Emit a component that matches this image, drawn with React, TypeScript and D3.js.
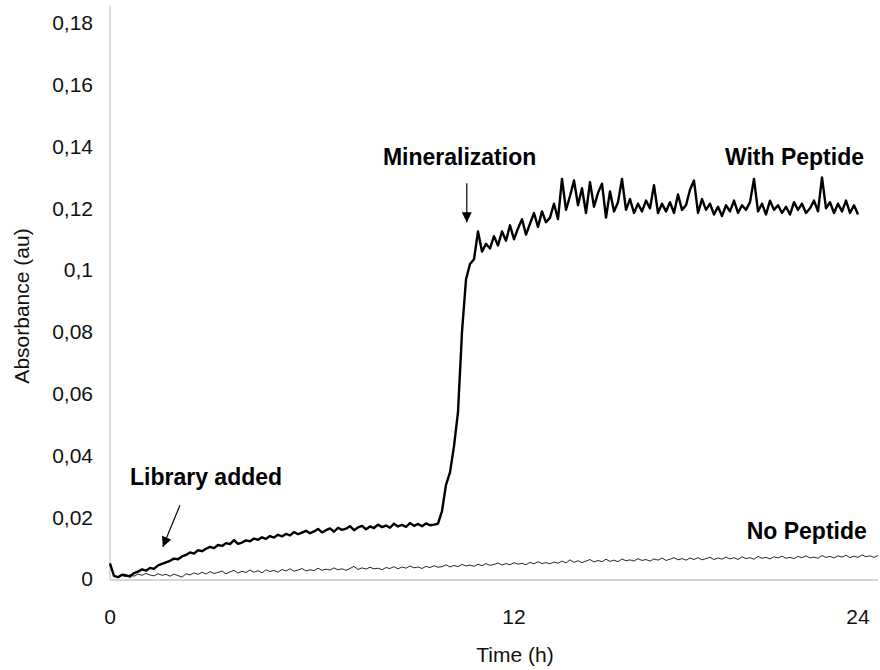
import React from "react";
import * as d3 from "d3";

// absorbance x 1000, one sample per step along the time axis
const withPeptide = [
  5.0, 1.0, 0.6, 1.4, 1.2, 0.8, 1.9, 2.4, 3.1, 2.7, 3.6, 3.3, 4.4, 4.9, 5.4, 5.9, 6.6, 6.4, 7.3, 7.8,
  8.6, 8.2, 9.3, 9.0, 9.8, 10.4, 10.0, 11.0, 10.7, 11.6, 11.3, 12.6, 11.4, 11.8, 12.5, 12.2, 13.1, 12.7, 13.5, 13.0,
  13.9, 13.4, 14.3, 13.8, 14.6, 14.1, 15.2, 14.5, 15.0, 15.6, 14.8, 15.4, 16.2, 15.1, 15.8, 16.4, 15.3, 16.6, 15.9, 16.3,
  17.1, 15.8, 16.7, 17.2, 16.1, 17.0, 16.5, 17.6, 16.8, 17.3, 16.6, 17.9, 17.0, 17.5, 16.9, 18.1, 17.2, 17.8, 17.1, 18.0,
  17.4, 17.6, 17.9, 22.0, 30.5, 34.5, 43.0, 54.0, 80.0, 97.0, 102.0, 103.5, 112.5, 106.0, 108.5, 107.0, 111.0, 108.0, 112.5, 109.5,
  114.5, 110.0, 113.5, 116.5, 111.5, 115.0, 118.5, 114.0, 119.0, 115.5, 117.0, 121.5, 116.5, 129.5, 119.5, 124.0, 129.0, 121.0, 126.5, 118.5,
  128.5, 120.5, 125.0, 128.0, 117.0, 125.5, 119.0, 122.0, 129.5, 119.5, 123.0, 118.5, 121.5, 119.0, 122.5, 120.0, 127.5, 118.5, 121.5, 119.0,
  122.0, 118.5, 124.5, 119.5, 121.0, 126.0, 129.0, 118.5, 123.0, 119.5, 121.5, 118.0, 120.5, 117.5, 121.0, 119.0, 122.5, 118.5, 121.0, 119.5,
  122.0, 129.5, 119.0, 121.5, 118.0, 122.5, 119.5, 121.0, 118.5, 120.5, 118.0, 122.0, 119.5, 121.5, 118.5, 120.0, 122.5, 119.0, 130.0, 120.0,
  122.0, 118.5, 121.5, 119.0, 122.5, 118.5, 121.0, 118.0,
];

const noPeptide = [
  5.2, 0.9, 0.5, 1.1, 0.7, 1.4, 0.9, 1.6, 1.2, 1.8, 1.3, 1.0, 1.7, 1.2, 1.5, 0.9, 1.6, 1.1, 0.6, 1.7,
  1.3, 2.0, 1.5, 2.2, 1.6, 2.4, 1.8, 2.1, 2.6, 1.7, 2.3, 2.8, 1.9, 2.5, 2.1, 2.9, 2.2, 2.7, 2.0, 3.0,
  2.4, 2.8, 2.2, 3.1, 2.6, 3.3, 2.5, 2.9, 3.4, 2.6, 3.0, 2.7, 3.5, 2.8, 3.2, 2.9, 3.6, 3.0, 3.3, 2.8,
  3.4, 4.1, 3.1, 3.6, 3.2, 3.8, 3.3, 3.5, 3.0, 3.7, 3.4, 4.0, 3.3, 3.9, 3.5, 4.2, 3.6, 3.9, 3.4, 4.1,
  3.7, 4.3, 3.8, 4.0, 4.6, 3.9, 4.4, 4.0, 4.7, 4.2, 4.5, 4.1, 4.8, 4.3, 5.0, 4.4, 4.7, 5.2, 4.5, 5.0,
  4.6, 5.3, 4.8, 5.1, 4.6, 5.4, 4.9, 5.6, 5.0, 5.3, 4.9, 5.5, 5.1, 5.8, 5.2, 6.2, 5.4, 5.9, 5.3, 5.8,
  6.3, 5.5, 6.0, 5.6, 6.4, 5.7, 6.1, 5.6, 6.5, 5.9, 6.2, 5.8, 6.6, 6.0, 6.3, 5.8, 6.5, 6.1, 6.8, 6.0,
  6.4, 6.9, 6.2, 6.6, 6.1, 6.8, 6.3, 6.9, 6.2, 6.6, 7.0, 6.3, 6.8, 6.4, 7.1, 6.5, 6.9, 6.3, 7.2, 6.6,
  6.9, 6.4, 7.3, 6.7, 7.0, 6.5, 7.2, 6.8, 7.4, 6.7, 7.0, 6.6, 7.3, 6.9, 7.5, 6.8, 7.1, 6.7, 7.6, 7.0,
  7.3, 6.8, 7.5, 7.1, 7.7, 6.9, 7.4, 7.0, 7.8, 7.2, 7.5, 7.0, 7.6,
];

const xTickIndex = [0, 101, 187];
const xTickLabels = ["0", "12", "24"];
const yTicks = [0, 20, 40, 60, 80, 100, 120, 140, 160, 180];

// annotation anchors in data units (sample index, absorbance x 1000)
const notes = [
  { text: "Library added", x: 5, y: 30.4, anchor: "start", from: [17.5, 23.9], to: [13.2, 10.4] },
  { text: "Mineralization", x: 87.4, y: 134, anchor: "middle", from: [89.2, 128.1], to: [89.2, 115.5] },
  { text: "With Peptide", x: 188.5, y: 134, anchor: "end", from: null, to: null },
  { text: "No Peptide", x: 189.2, y: 12.9, anchor: "end", from: null, to: null },
];

const W = 880;
const H = 670;
const font = "'Liberation Sans', Arial, sans-serif";

const App: React.FC = () => {
  const x = d3.scaleLinear().domain([0, noPeptide.length - 1]).range([110, 878]);
  const y = d3.scaleLinear().domain([0, 180]).range([579, 23]);

  const line = d3
    .line<number>()
    .x((_d, i) => x(i))
    .y((d) => y(d));

  const fmt = (v: number) => String(Math.round(v) / 1000).replace(".", ",");

  return (
    <svg
      width={W}
      height={H}
      style={{ position: "absolute", left: 0, top: 0, background: "#fff" }}
      fontFamily={font}
    >
      <defs>
        <marker
          id="head"
          viewBox="0 0 10 10"
          refX="10"
          refY="5"
          markerWidth="11"
          markerHeight="10"
          orient="auto"
          markerUnits="userSpaceOnUse"
        >
          <path d="M0,0 L10,5 L0,10 z" fill="#000" />
        </marker>
      </defs>

      {/* axes */}
      <line x1={x(0)} x2={x(0)} y1={5} y2={y(0) + 1} stroke="#d0d0d0" strokeWidth={1.5} />
      <line x1={x(0)} x2={878} y1={y(0) + 1} y2={y(0) + 1} stroke="#c8c8c8" strokeWidth={1.5} />

      {yTicks.map((t) => (
        <text key={t} x={93} y={y(t)} dy="0.35em" textAnchor="end" fontSize={21} fill="#111">
          {fmt(t)}
        </text>
      ))}
      {xTickIndex.map((t, i) => (
        <text key={t} x={x(t)} y={617} dy="0.35em" textAnchor="middle" fontSize={21} fill="#111">
          {xTickLabels[i]}
        </text>
      ))}

      <text x={(x(0) + 878) / 2 + 21} y={655} dy="0.35em" textAnchor="middle" fontSize={21} fill="#111">
        Time (h)
      </text>
      <text
        transform={`translate(22,${(y(0) + y(180)) / 2 + 5}) rotate(-90)`}
        dy="0.35em"
        textAnchor="middle"
        fontSize={21}
        fill="#111"
      >
        Absorbance (au)
      </text>

      {/* series */}
      <path d={line(noPeptide) ?? ""} fill="none" stroke="#2a2a2a" strokeWidth={1} />
      <path d={line(withPeptide) ?? ""} fill="none" stroke="#000" strokeWidth={2.4} strokeLinejoin="round" />

      {/* annotations */}
      {notes.map((n) => (
        <g key={n.text}>
          <text
            x={x(n.x)}
            y={y(n.y)}
            textAnchor={n.anchor as "start" | "middle" | "end"}
            fontSize={23}
            fontWeight="bold"
            fill="#000"
          >
            {n.text}
          </text>
          {n.from && n.to && (
            <line
              x1={x(n.from[0])}
              y1={y(n.from[1])}
              x2={x(n.to[0])}
              y2={y(n.to[1])}
              stroke="#000"
              strokeWidth={1.2}
              markerEnd="url(#head)"
            />
          )}
        </g>
      ))}
    </svg>
  );
};

export default App;
